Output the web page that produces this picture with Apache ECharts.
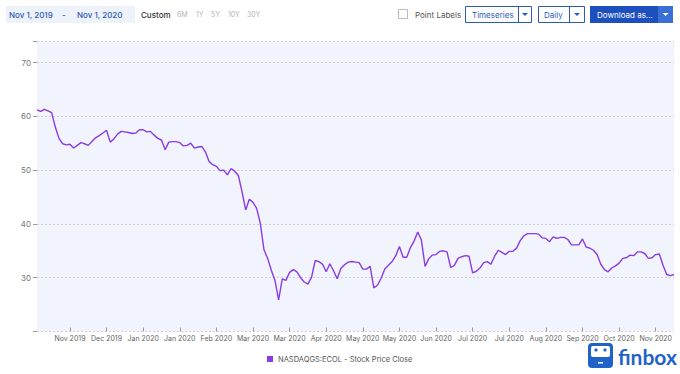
<!DOCTYPE html>
<html>
<head>
<meta charset="utf-8">
<script src="https://cdn.jsdelivr.net/npm/echarts@6/dist/echarts.min.js"></script>
<style>
html,body{margin:0;padding:0;background:#fff;}
#chart{width:680px;height:374px;}
</style>
</head>
<body>
<div id="chart"></div>
<script>
// Stock price close, ECOL, Nov 1 2019 - Nov 1 2020 (sampled ~every 1.5 trading days)
const prices = [
61.2,60.9,61.3,61.0,60.7,58.0,55.9,54.9,54.7,54.8,
54.1,54.6,55.1,54.9,54.6,55.3,56.0,56.4,56.9,57.4,
55.2,55.8,56.7,57.2,57.1,57.0,56.8,56.9,57.5,57.5,
57.1,57.2,56.5,55.9,55.6,53.8,55.2,55.3,55.3,55.1,
54.5,54.6,55.0,54.1,54.3,54.4,53.4,51.6,51.0,50.7,
49.9,50.0,49.1,50.3,49.8,49.0,46.0,42.6,44.6,44.0,
42.9,40.1,35.2,33.6,31.4,29.5,25.9,29.8,29.5,31.0,
31.5,31.1,30.0,29.2,28.8,30.1,33.2,33.0,32.5,31.1,
32.6,31.3,29.8,31.7,32.4,32.9,33.0,32.9,32.8,31.6,
31.6,32.1,28.1,28.6,29.9,31.6,32.3,33.0,34.1,35.8,
33.8,33.8,35.6,36.8,38.5,37.0,32.1,33.5,34.2,34.3,
34.9,35.0,34.8,31.9,32.3,33.6,33.9,34.1,34.0,30.9,
31.2,31.8,32.8,33.0,32.5,34.0,35.1,34.7,34.3,34.9,
34.9,35.5,36.9,37.8,38.2,38.2,38.2,38.1,37.4,37.3,
36.7,37.6,37.3,37.5,37.5,37.1,36.1,36.1,36.1,37.2,
35.7,35.5,35.1,34.3,32.5,31.5,31.1,31.8,32.2,32.7,
33.6,33.7,34.2,34.1,34.8,34.8,34.5,33.6,33.7,34.3,
34.4,32.3,30.6,30.4,30.6
];
const tickLabels = ['Nov 2019','Dec 2019','Jan 2020','Jan 2020','Feb 2020','Mar 2020','Mar 2020','Apr 2020','May 2020','May 2020','Jun 2020','Jul 2020','Jul 2020','Aug 2020','Sep 2020','Oct 2020','Nov 2020'];
const yTicks = [30, 40, 50, 60, 70];
const seriesName = 'NASDAQGS:ECOL - Stock Price Close';
const dateFrom = 'Nov 1, 2019';
const dateTo = 'Nov 1, 2020';
const rangeButtons = ['6M','1Y','5Y','10Y','30Y'];

const TICK_FIRST = 9, TICK_STEP = 10;
const isTick = (i) => i >= TICK_FIRST && (i - TICK_FIRST) % TICK_STEP === 0;

const FONT = 'Inter, "Noto Sans", sans-serif';
const BLUE = '#2c5cb8';
const PURPLE = '#8a3be6';

const chart = echarts.init(document.getElementById('chart'), null, {renderer: 'svg'});

const rangeX = [177, 196, 211, 228, 247];
const graphics = [
  {type:'rect', shape:{x:6, y:6, width:129, height:17}, style:{fill:'#eef2fa'}},
  {type:'text', x:9, y:14.5, style:{text:dateFrom, fill:BLUE, font:'500 8px ' + FONT, textVerticalAlign:'middle'}},
  {type:'text', x:62, y:14.5, style:{text:'-', fill:BLUE, font:'500 8px ' + FONT, textVerticalAlign:'middle'}},
  {type:'text', x:77, y:14.5, style:{text:dateTo, fill:BLUE, font:'500 8px ' + FONT, textVerticalAlign:'middle'}},
  {type:'text', x:141, y:14.5, style:{text:'Custom', fill:'#333', font:'500 8px ' + FONT, textVerticalAlign:'middle'}},
  ...rangeButtons.map((t, i) => ({type:'text', x:rangeX[i], y:14.5, style:{text:t, fill:'#b5b5b5', font:'7px ' + FONT, textVerticalAlign:'middle'}})),
  {type:'rect', shape:{x:398.5, y:9.5, width:9, height:9}, style:{fill:'#fff', stroke:'#bbb', lineWidth:1}},
  {type:'text', x:415, y:14.5, style:{text:'Point Labels', fill:'#555', font:'8px ' + FONT, textVerticalAlign:'middle'}},
  {type:'rect', shape:{x:465.5, y:6.5, width:66, height:16}, style:{fill:'#fff', stroke:BLUE, lineWidth:1}},
  {type:'line', shape:{x1:518.5, y1:6.5, x2:518.5, y2:22.5}, style:{stroke:BLUE, lineWidth:1}},
  {type:'text', x:472, y:14.5, style:{text:'Timeseries', fill:BLUE, font:'8px ' + FONT, textVerticalAlign:'middle'}},
  {type:'polygon', shape:{points:[[522,13],[528,13],[525,16]]}, style:{fill:BLUE}},
  {type:'rect', shape:{x:538.5, y:6.5, width:46, height:16}, style:{fill:'#fff', stroke:BLUE, lineWidth:1}},
  {type:'line', shape:{x1:569.5, y1:6.5, x2:569.5, y2:22.5}, style:{stroke:BLUE, lineWidth:1}},
  {type:'text', x:544, y:14.5, style:{text:'Daily', fill:BLUE, font:'8px ' + FONT, textVerticalAlign:'middle'}},
  {type:'polygon', shape:{points:[[574,13],[580,13],[577,16]]}, style:{fill:BLUE}},
  {type:'rect', shape:{x:590, y:6, width:83, height:17}, style:{fill:'#1d4fbf'}},
  {type:'rect', shape:{x:658, y:6, width:15, height:17}, style:{fill:'#3a6fd6'}},
  {type:'text', x:597, y:14.5, style:{text:'Download as...', fill:'#fff', font:'8px ' + FONT, textVerticalAlign:'middle'}},
  {type:'polygon', shape:{points:[[662.5,13],[668.5,13],[665.5,16]]}, style:{fill:'#fff'}},
  // finbox logo
  {type:'rect', shape:{x:588, y:343, width:25, height:25, r:4}, style:{fill:'#1f63c8'}},
  {type:'rect', shape:{x:591, y:346, width:19, height:11, r:2}, style:{fill:'#fff'}},
  {type:'circle', shape:{cx:596, cy:350, r:1.6}, style:{fill:'#1f63c8'}},
  {type:'circle', shape:{cx:605, cy:350, r:1.6}, style:{fill:'#1f63c8'}},
  {type:'rect', shape:{x:598, y:362, width:5, height:1.5}, style:{fill:'#fff'}},
  {type:'text', x:618, y:356.5, style:{text:'finbox', fill:'#1f63c8', font:'700 21px Lato, sans-serif', textVerticalAlign:'middle'}}
];

const option = {
  backgroundColor: '#fff',
  animation: false,
  textStyle: {fontFamily: FONT},
  grid: {left: 37, right: 6, top: 41, bottom: 42.5, show: true, backgroundColor: '#f1f4fd', borderWidth: 0},
  legend: {
    left: 262, top: 350,
    icon: 'rect', itemWidth: 6, itemHeight: 6, itemGap: 6,
    textStyle: {fontSize: 7.5, color: '#555', fontFamily: FONT},
    data: [{name: seriesName, itemStyle: {color: PURPLE}}]
  },
  xAxis: {
    type: 'category',
    boundaryGap: false,
    data: prices.map((_, i) => String(i)),
    axisLine: {show: false},
    axisTick: {show: true, inside: true, length: 4, interval: (i) => isTick(i), lineStyle: {color: '#999'}},
    axisLabel: {
      interval: (i) => isTick(i),
      formatter: (v, i) => { const k = (i - TICK_FIRST) / TICK_STEP; return tickLabels[k] || ''; },
      fontSize: 7, color: '#666', margin: 3, fontFamily: FONT
    },
    splitLine: {show: false}
  },
  yAxis: {
    type: 'value',
    min: 20, max: 74, interval: 10,
    axisLine: {show: false},
    axisTick: {show: true, length: 4, lineStyle: {color: '#999'}},
    axisLabel: {
      fontSize: 8, color: '#777', margin: 6, fontFamily: FONT,
      formatter: (v) => yTicks.includes(v) ? String(v) : ''
    },
    splitLine: {show: true, lineStyle: {color: '#cfcfd6', type: [2, 2], width: 1}}
  },
  series: [{
    name: seriesName,
    type: 'line',
    data: prices,
    symbol: 'none',
    lineStyle: {color: PURPLE, width: 1.4},
    itemStyle: {color: PURPLE}
  }],
  graphic: graphics
};
chart.setOption(option);
</script>
</body>
</html>
